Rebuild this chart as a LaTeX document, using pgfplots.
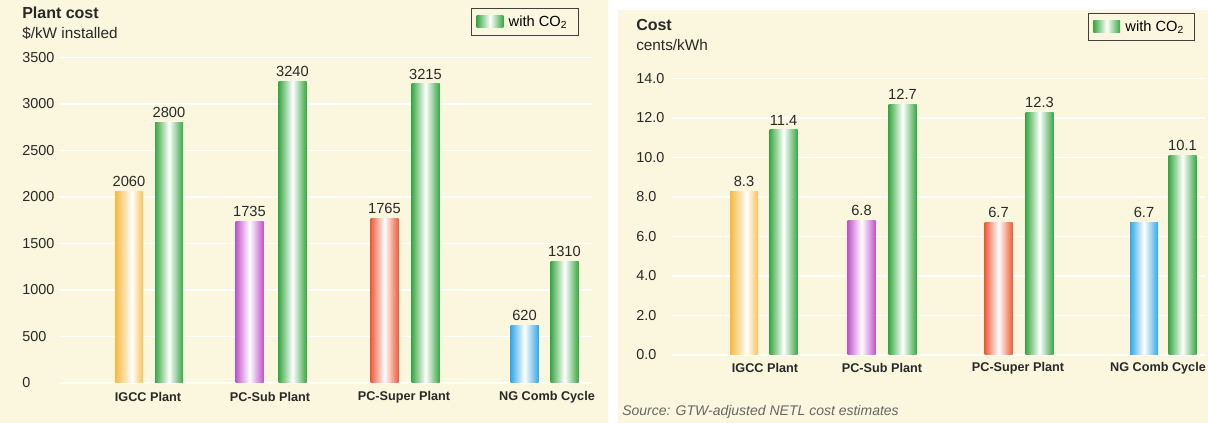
\documentclass[border=0pt]{standalone}
\usepackage{pgfplots}
\pgfplotsset{compat=1.18}
\usepackage{fontspec}
\setmainfont{Liberation Sans}
\definecolor{cream}{RGB}{250,247,222}
\definecolor{cgreen}{RGB}{58,168,68}
\definecolor{corange}{RGB}{248,184,60}
\definecolor{cmag}{RGB}{192,84,204}
\definecolor{cred}{RGB}{238,92,58}
\definecolor{cblue}{RGB}{52,168,230}
\definecolor{txt}{RGB}{40,40,40}
\pgfdeclarehorizontalshading{gshade}{100bp}{color(0bp)=(cgreen); color(25bp)=(cgreen); color(50bp)=(white); color(75bp)=(cgreen); color(100bp)=(cgreen)}
\pgfdeclarehorizontalshading{oshade}{100bp}{color(0bp)=(corange); color(25bp)=(corange); color(55bp)=(white); color(78bp)=(corange); color(100bp)=(corange)}
\pgfdeclarehorizontalshading{mshade}{100bp}{color(0bp)=(cmag); color(25bp)=(cmag); color(50bp)=(white); color(75bp)=(cmag); color(100bp)=(cmag)}
\pgfdeclarehorizontalshading{rshade}{100bp}{color(0bp)=(cred); color(25bp)=(cred); color(50bp)=(white); color(75bp)=(cred); color(100bp)=(cred)}
\pgfdeclarehorizontalshading{bshade}{100bp}{color(0bp)=(cblue); color(25bp)=(cblue); color(50bp)=(white); color(75bp)=(cblue); color(100bp)=(cblue)}

\pgfplotsset{
  /pgf/number format/assume math mode=true,
  /pgf/number format/1000 sep={},
  panel/.style={
    scale only axis, enlargelimits=false,
    axis line style={draw=none}, tick style={draw=none},
    ymajorgrids, grid style={white, line width=1pt},
    ticklabel style={text=txt},
    yticklabel style={anchor=west, inner xsep=0pt, font=\fontsize{10.8}{12}\selectfont},
    xticklabel style={anchor=center, font=\bfseries\fontsize{9.5}{11}\selectfont},
    legend style={draw=black!75, fill=cream, font=\fontsize{11}{13}\selectfont, inner xsep=4pt, inner ysep=3.5pt, row sep=0pt,
      nodes={inner xsep=4pt}},
    legend image code/.code={\shade[shading=gshade] (0pt,-4.5pt) rectangle (20pt,4.5pt);},
  },
  mybar/.style={ybar, bar width=21pt, bar shift=0pt, draw=none, shade, shading=#1,
    nodes near coords, every node near coord/.append style={font=\fontsize{11}{12}\selectfont, text=txt, yshift=0pt}},
}

\begin{document}
\begin{tikzpicture}
\path[use as bounding box] (0,0) rectangle (906pt,317.25pt);
\clip (0,0) rectangle (906pt,317.25pt);
\fill[cream] (0pt,0pt) rectangle (456pt,317.25pt);
\fill[white] (456pt,0pt) rectangle (906pt,317.25pt);
\fill[cream] (463.5pt,0pt) rectangle (906pt,309.75pt);

\begin{axis}[panel,
  at={(45pt,30pt)}, anchor=south west,
  width=399pt, height=244.125pt,
  xmin=60, xmax=592, ymin=0, ymax=3500,
  ytick={0,500,...,3500},
  yticklabel style={xshift=-28.5pt},
  xtick={148,270,404,547},
  xticklabels={IGCC Plant, PC-Sub Plant, PC-Super Plant, NG Comb Cycle},
  xticklabel style={yshift=-10.5pt},
  legend style={at={(0.974,1.152)}, anchor=north east},
]
% with CO2 (green)
\addplot[mybar=gshade] coordinates {(169,2800)};
\addlegendentry{with CO\textsubscript{2}}
\addplot[mybar=gshade, forget plot] coordinates {(292.5,3240)};
\addplot[mybar=gshade, forget plot] coordinates {(425.5,3215)};
\addplot[mybar=gshade, forget plot] coordinates {(564.5,1310)};
% without CO2
\addplot[mybar=oshade, forget plot] coordinates {(129,2060)};
\addplot[mybar=mshade, forget plot] coordinates {(249.5,1735)};
\addplot[mybar=rshade, forget plot] coordinates {(384.5,1765)};
\addplot[mybar=bshade, forget plot] coordinates {(524.5,620)};
\end{axis}

\begin{axis}[panel,
  at={(504pt,51pt)}, anchor=south west,
  width=399.75pt, height=207.375pt,
  xmin=672, xmax=1205, ymin=0, ymax=14,
  ytick={0,2,...,14},
  yticklabel style={xshift=-27pt, /pgf/number format/.cd, fixed, fixed zerofill, precision=1},
  xtick={765,882,1018,1158},
  xticklabels={IGCC Plant, PC-Sub Plant, PC-Super Plant, NG Comb Cycle},
  xticklabel style={yshift=-9.75pt},
  legend style={at={(0.981,1.237)}, anchor=north east},
  nodes near coords={\pgfmathprintnumber[fixed,fixed zerofill,precision=1]{\pgfplotspointmeta}},
]
% with CO2 (green)
\addplot[mybar=gshade] coordinates {(783.5,11.4)};
\addlegendentry{with CO\textsubscript{2}}
\addplot[mybar=gshade, forget plot] coordinates {(902.5,12.7)};
\addplot[mybar=gshade, forget plot] coordinates {(1039.5,12.3)};
\addplot[mybar=gshade, forget plot] coordinates {(1182.5,10.1)};
% without CO2
\addplot[mybar=oshade, forget plot] coordinates {(744,8.3)};
\addplot[mybar=mshade, forget plot] coordinates {(861.5,6.8)};
\addplot[mybar=rshade, forget plot] coordinates {(998.5,6.7)};
\addplot[mybar=bshade, forget plot] coordinates {(1144,6.7)};
\end{axis}

\node[anchor=west, inner sep=0pt, text=txt, font=\bfseries\fontsize{12}{14}\selectfont] at (16.5pt,307.5pt) {Plant cost};
\node[anchor=west, inner sep=0pt, text=txt, font=\fontsize{11.5}{14}\selectfont] at (16.5pt,292.5pt) {\$/kW installed};
\node[anchor=west, inner sep=0pt, text=txt, font=\bfseries\fontsize{12}{14}\selectfont] at (477pt,298.5pt) {Cost};
\node[anchor=west, inner sep=0pt, text=txt, font=\fontsize{11.5}{14}\selectfont] at (477pt,283.5pt) {cents/kWh};
\node[anchor=west, inner sep=0pt, text=black!60, font=\itshape\fontsize{10.5}{12}\selectfont] at (466.5pt,8.25pt) {Source: GTW-adjusted NETL cost estimates};
\end{tikzpicture}
\end{document}
